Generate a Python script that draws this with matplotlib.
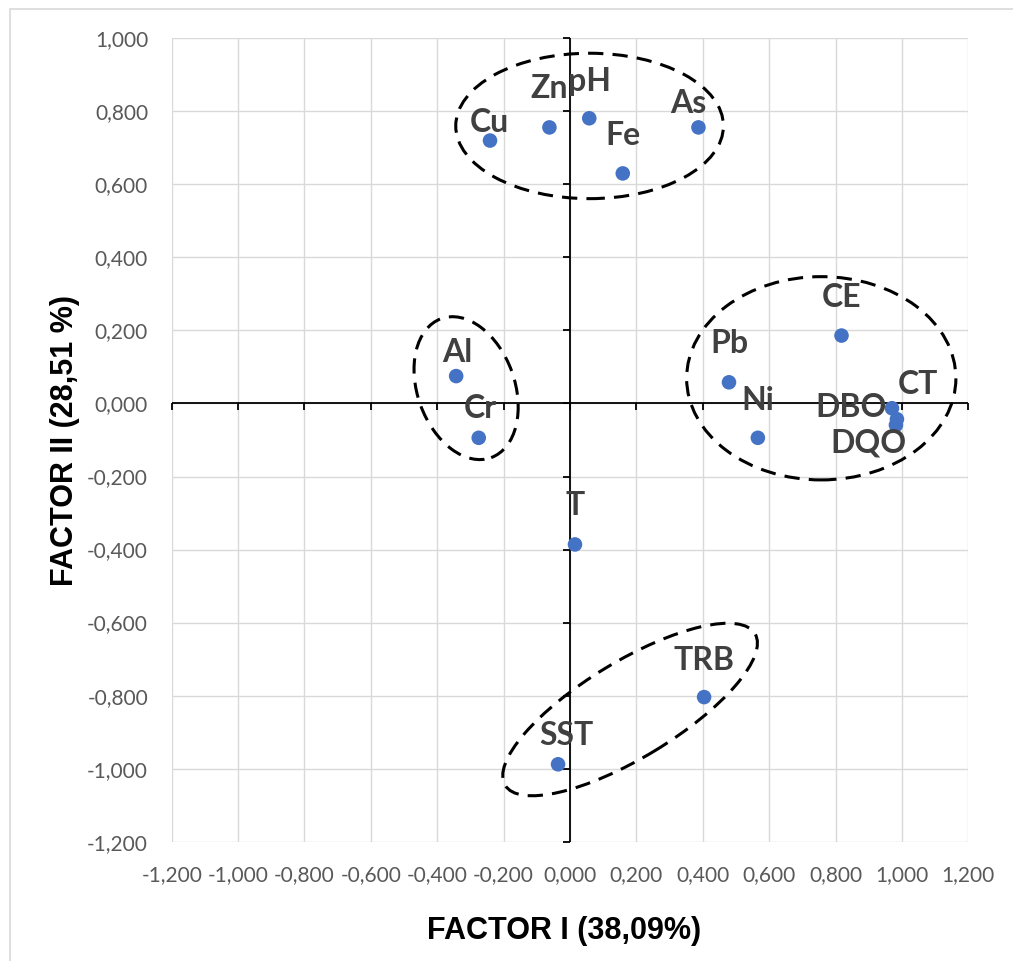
import numpy as np
import matplotlib.pyplot as plt
from matplotlib.patches import Ellipse, Rectangle
from matplotlib.lines import TICKLEFT, TICKDOWN

# Factor loadings
labels = ["Cu", "Zn", "pH", "Fe", "As", "CE", "Pb", "Ni", "CT", "DBO", "DQO",
          "Al", "Cr", "T", "TRB", "SST"]
factor1 = [-0.241, -0.062, 0.058, 0.159, 0.387, 0.818, 0.479, 0.566, 0.985, 0.970, 0.982,
           -0.343, -0.275, 0.015, 0.404, -0.036]
factor2 = [0.720, 0.756, 0.781, 0.630, 0.756, 0.186, 0.058, -0.094, -0.043, -0.013, -0.059,
           0.075, -0.094, -0.386, -0.804, -0.988]

# label offsets (points) of text baseline relative to each point
label_dx = [-1, 0, 0, 0, -10, 0, 0, 0, 21, -41, -28, 1.5, 2, 0, 0, 8]
label_dy = [9, 29, 27.6, 28.3, 14, 29, 29, 27.7, 25, -9, -27.7, 14.3, 19.4, 29.3, 27, 19.3]

# group ellipses: centre (data), width/height (axes fraction), angle (deg)
groups = [
    ((0.059, 0.760), 0.336, 0.181, 0),
    ((0.757, 0.069), 0.338, 0.253, 0),
    ((-0.313, 0.042), 0.122, 0.184, 20),
    ((0.181, -0.838), 0.366, 0.12, 31),
]

ticks = np.round(np.arange(-1.2, 1.21, 0.2), 1)
yticks = np.round(np.arange(-1.2, 1.01, 0.2), 1)

fig = plt.figure(figsize=(10.13, 9.61), dpi=100)
ax = fig.add_axes([171.7 / 1013, 1 - 841.7 / 961, 796.6 / 1013, 803.4 / 961])

# chart-area border (left and top visible)
fig.patches.append(Rectangle((9.5 / 1013, -0.1), 1.2, 1.1 - 9.5 / 961,
                             transform=fig.transFigure, fill=False,
                             edgecolor="#d9d9d9", lw=1.2))

ax.set_xlim(-1.2, 1.2)
ax.set_ylim(-1.2, 1.0)
ax.set_xticks(ticks)
ax.set_yticks(yticks)
fmt = lambda v: f"{v:.3f}".replace(".", ",").replace("-0,000", "0,000")
ax.set_xticklabels([fmt(v) for v in ticks], fontfamily="Lato", fontsize=15, color="#595959")
ax.set_yticklabels([fmt(v) for v in yticks], fontfamily="Lato", fontsize=15, color="#595959")
ax.tick_params(length=0, pad=17)
ax.grid(True, color="#d9d9d9", lw=1.0)
ax.set_axisbelow(True)
for s in ax.spines.values():
    s.set_visible(False)

# axes crossing at zero with outward ticks
ax.axhline(0, color="black", lw=1.3, zorder=2)
ax.axvline(0, color="black", lw=1.3, zorder=2)
ax.plot(ticks, np.zeros_like(ticks), ls="none", marker=TICKDOWN, ms=5, mew=1.3,
        color="black", zorder=2, clip_on=False)
ax.plot(np.zeros_like(yticks), yticks, ls="none", marker=TICKLEFT, ms=5, mew=1.3,
        color="black", zorder=2, clip_on=False)

ax.scatter(factor1, factor2, s=110, color="#4472C4", zorder=4, edgecolors="none")

for name, x, y, dx, dy in zip(labels, factor1, factor2, label_dx, label_dy):
    ax.annotate(name, (x, y), xytext=(dx * 0.72, dy * 0.72), textcoords="offset points",
                ha="center", va="baseline", fontfamily="Lato", fontweight="bold",
                fontsize=23, color="#404040", zorder=5)

for (cx, cy), w, h, ang in groups:
    c = ax.transLimits.transform((cx, cy))
    ax.add_patch(Ellipse(c, w, h, angle=ang, transform=ax.transAxes, fill=False,
                         edgecolor="black", lw=2.2, ls=(0, (5, 3)), zorder=6))

fig.text(564 / 1013, 1 - 931 / 961, "FACTOR I (38,09%)", ha="center", va="center",
         fontfamily="Liberation Sans", fontweight="bold", fontsize=22)
fig.text(65 / 1013, 1 - 440 / 961, "FACTOR II (28,51 %)", ha="center", va="center",
         rotation=90, fontfamily="Liberation Sans", fontweight="bold", fontsize=22)

fig.savefig("out.png", dpi=100)
